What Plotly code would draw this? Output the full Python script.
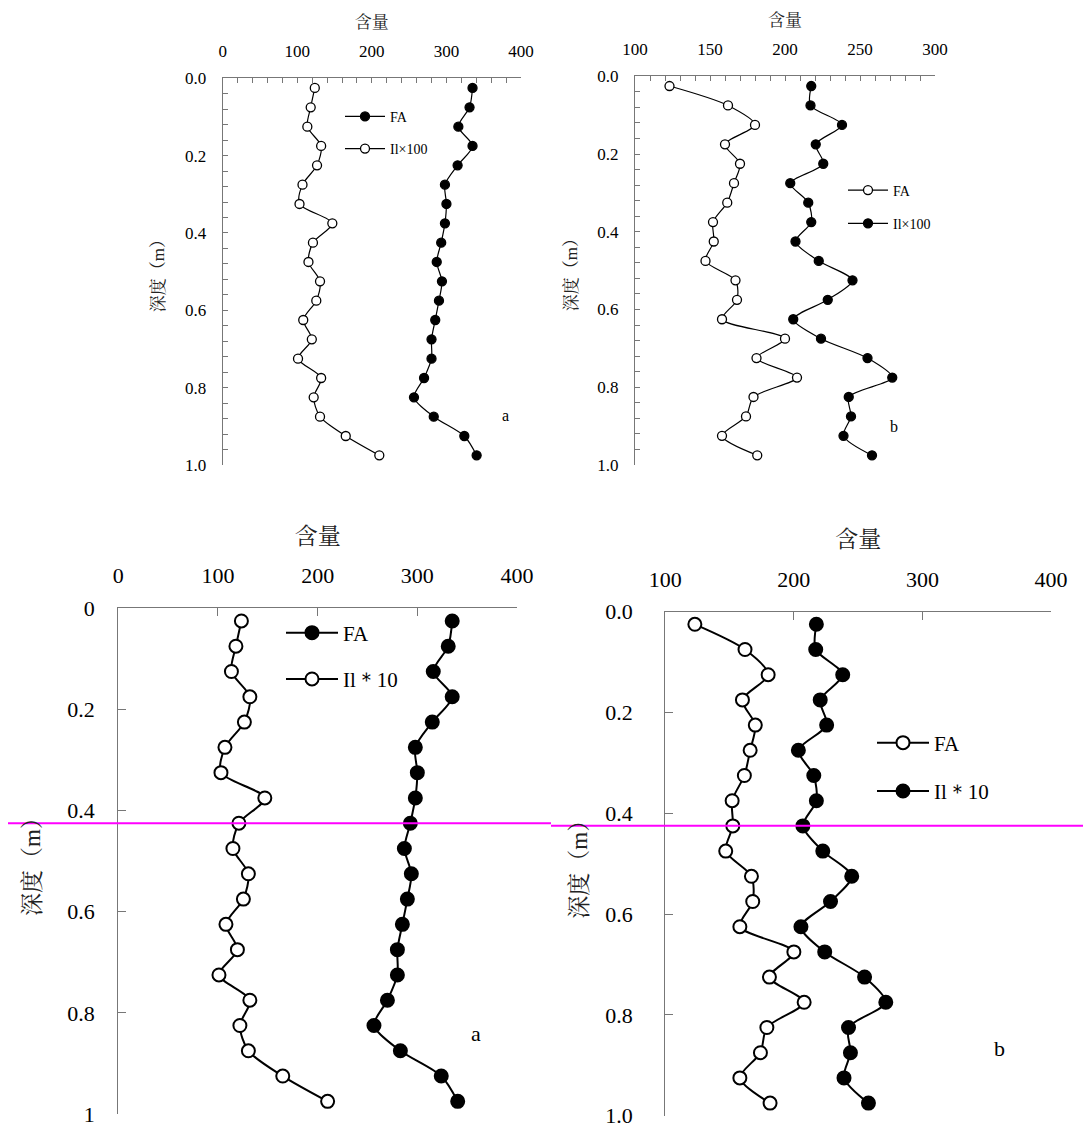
import plotly.graph_objects as go

# ---------------- data ----------------
depth = [0.025, 0.075, 0.125, 0.175, 0.225, 0.275, 0.325, 0.375, 0.425, 0.475,
         0.525, 0.575, 0.625, 0.675, 0.725, 0.775, 0.825, 0.875, 0.925, 0.975]

a_fa = [335, 331, 316, 335, 315, 298, 300, 298, 293, 287,
        294, 290, 285, 280, 280, 270, 256.5, 283, 324, 340.5]
a_il = [123.5, 118, 113.5, 132, 126.5, 107, 103, 147, 121, 115,
        130.5, 125.5, 108, 119.5, 101, 132, 122, 130.5, 165, 210]

b_fa = [123, 162, 180, 160, 170, 166, 161.5, 152, 152.5, 147,
        167, 168, 158, 200, 181, 208, 179, 174, 158, 181.5]
b_il = [217.5, 217, 238, 220.5, 225.5, 203.5, 215.5, 217.5, 207, 222.5,
        245, 228.5, 205.5, 224, 255, 271.5, 242.5, 244, 239, 258]

x_title = "含量"
y_title = "深度（m）"
top_il_name = "Il×100"
bot_il_name = "Il＊10"

# the page body has an 8px margin, so the figure is placed at (8, 8)
OFF = 8
W, H = 1091, 1128
SERIF = "Liberation Serif"
CJK = "Liberation Serif, Noto Serif CJK SC, Noto Sans CJK SC"
AXC = "#777777"


def px_x(p):
    return (p - OFF) / W


def px_y(p):
    return 1 - (p - OFF) / H


fig = go.Figure()


def add_pair(xa, ya, leg, first_vals, first_name, first_filled,
             second_vals, second_name, second_filled, msize, lw, mlw):
    for i, (vals, name, filled) in enumerate([(first_vals, first_name, first_filled),
                                              (second_vals, second_name, second_filled)]):
        fig.add_trace(go.Scatter(
            x=vals, y=depth, name=name, mode="lines+markers",
            xaxis=xa, yaxis=ya, legend=leg, legendgroup=leg + str(i),
            line=dict(color="black", width=lw, shape="spline", smoothing=0.8),
            marker=dict(size=msize, color="black" if filled else "white",
                        line=dict(color="black", width=mlw)),
            cliponaxis=False,
        ))


# panel traces
add_pair("x", "y", "legend", a_fa, "FA", True, a_il, top_il_name, False, 9, 1.2, 1.3)
add_pair("x2", "y2", "legend2", b_fa, "FA", False, b_il, top_il_name, True, 9, 1.2, 1.3)
add_pair("x3", "y3", "legend3", a_fa, "FA", True, a_il, bot_il_name, False, 13, 2, 2)
add_pair("x4", "y4", "legend4", b_fa, "FA", False, b_il, bot_il_name, True, 13, 2, 2)


def xaxis(dom, rng, dtick, anchor, fs, tfs, minor_dtick, tls, tstand, tlen):
    d = dict(domain=[px_x(dom[0]), px_x(dom[1])], range=rng, dtick=dtick, tick0=rng[0],
             side="top", anchor=anchor, showgrid=False, zeroline=False,
             showline=True, linecolor=AXC, linewidth=1.3, mirror=False,
             ticks="inside", ticklen=tlen, tickcolor=AXC, tickwidth=1.3,
             tickfont=dict(family=SERIF, size=fs, color="black"),
             ticklabelstandoff=tls, ticklabeloverflow="allow",
             title=dict(text=x_title, font=dict(family=CJK, size=tfs, color="#222"),
                        standoff=tstand))
    if minor_dtick:
        d["minor"] = dict(dtick=minor_dtick, ticks="inside", ticklen=tlen, tickcolor=AXC,
                          tickwidth=1.2, showgrid=False)
    return d


def yaxis(dom, anchor, fs, tfs, fmt, minor_dtick, tls, tstand, tlen):
    d = dict(domain=[px_y(dom[1]), px_y(dom[0])], range=[1, 0], dtick=0.2, tick0=0,
             anchor=anchor, showgrid=False, zeroline=False,
             showline=True, linecolor=AXC, linewidth=1.3,
             ticks="inside", ticklen=tlen, tickcolor=AXC, tickwidth=1.3,
             tickformat=fmt,
             tickfont=dict(family=SERIF, size=fs, color="black"),
             ticklabelstandoff=tls, ticklabeloverflow="allow",
             title=dict(text=y_title, font=dict(family=CJK, size=tfs, color="#222"),
                        standoff=tstand))
    if minor_dtick:
        d["minor"] = dict(dtick=minor_dtick, ticks="inside", ticklen=tlen, tickcolor=AXC,
                          tickwidth=1.2, showgrid=False)
    return d


layout = dict(
    width=W, height=H, margin=dict(l=0, r=0, t=0, b=0, autoexpand=False),
    paper_bgcolor="white", plot_bgcolor="white", showlegend=True,
    xaxis=xaxis((222.7, 521), [0, 400], 100, "y", 17, 17, 20, 13, 9, 5),
    yaxis=yaxis((78.3, 465), "x", 17, 17, ".1f", 0.04, 12, 15, 5),
    xaxis2=xaxis((635, 935), [100, 300], 50, "y2", 17, 17, 10, 13, 9, 5),
    yaxis2=yaxis((76.3, 465), "x2", 17, 17, ".1f", 0.04, 12, 15, 5),
    xaxis3=xaxis((118.3, 517), [0, 400], 100, "y3", 22, 23, None, 15, 12, 8),
    yaxis3=yaxis((608.3, 1114), "x3", 22, 23, "", None, 18, 20, 8),
    xaxis4=xaxis((665.3, 1051), [100, 400], 100, "y4", 22, 23, None, 15, 12, 8),
    yaxis4=yaxis((611.7, 1115.7), "x4", 22, 23, ".1f", None, 27, 11, 8),
)


def legend(xpx, ycpx, fs, gap, iw):
    return dict(x=px_x(xpx), y=px_y(ycpx), xanchor="left", yanchor="middle",
                bgcolor="rgba(0,0,0,0)", borderwidth=0, tracegroupgap=gap,
                itemwidth=iw,
                font=dict(family=SERIF, size=fs, color="black"), traceorder="grouped")


layout["legend"] = legend(340, 132.8, 14, 11, 40)
layout["legend2"] = legend(843, 207, 14, 12, 40)
layout["legend3"] = legend(281, 656, 21, 16, 52)
layout["legend4"] = legend(872, 767, 21, 18, 52)

fig.update_layout(**layout)

# panel letters
for txt, xp, yp, fs in [("a", 505.7, 415, 16), ("b", 900, 426.7, 16),
                        ("a", 476, 1048, 22), ("b", 1007, 1063, 22)]:
    fig.add_annotation(text=txt, x=px_x(xp), y=px_y(yp), xref="paper", yref="paper",
                       showarrow=False, font=dict(family=SERIF, size=fs, color="black"))

# magenta marker lines
fig.add_shape(type="line", xref="paper", yref="paper", x0=px_x(8), x1=px_x(551),
              y0=px_y(823.3), y1=px_y(823.3), line=dict(color="#FF00FF", width=2))
fig.add_shape(type="line", xref="paper", yref="paper", x0=px_x(551), x1=px_x(1091),
              y0=px_y(825.7), y1=px_y(825.7), line=dict(color="#FF00FF", width=2))

fig.write_html("out.html")
